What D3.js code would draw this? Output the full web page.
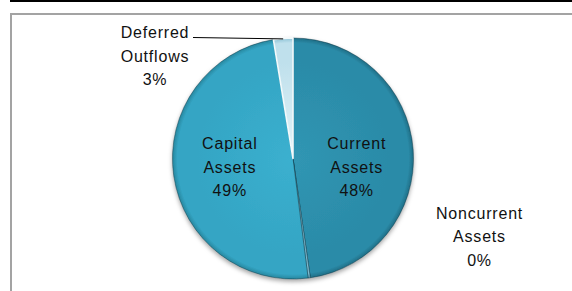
<!DOCTYPE html>
<html>
<head>
<meta charset="utf-8">
<script src="https://cdn.jsdelivr.net/npm/d3@7"></script>
<style>
  html, body { margin:0; padding:0; background:#fff; }
  svg { display:block; }
</style>
</head>
<body>
<div class="chart"></div>
<script>
// data (order = Excel order, clockwise from 12 o'clock)
var categories = ["Current Assets", "Noncurrent Assets", "Capital Assets", "Deferred Outflows"];
var labelLines = [["Current","Assets"], ["Noncurrent","Assets"], ["Capital","Assets"], ["Deferred","Outflows"]];
var values = [47.7, 0.3, 49.4, 2.6];
var pctLabels = ["48%", "0%", "49%", "3%"];

var W = 572, H = 291;
var cx = 293, cy = 158.5, R = 120.5;

// colours per slice: [light, base, rim]
var sliceColors = [
  ["#3096b3", "#2b8ba8", "#1f6e86"],
  ["#8fc9dc", "#7dbdd2", "#5a9fb6"],
  ["#3bb0cf", "#34a5c4", "#27879f"],
  ["#e4f3f8", "#bfe0ec", "#8ec3d6"]
];

var svg = d3.select(".chart").append("svg")
  .attr("width", W)
  .attr("height", H);

var defs = svg.append("defs");

// soft shadow under the pie
var f = defs.append("filter").attr("id","shadow")
  .attr("x","-20%").attr("y","-20%").attr("width","140%").attr("height","140%");
f.append("feDropShadow")
  .attr("dx",0).attr("dy",2.5)
  .attr("stdDeviation",2.2)
  .attr("flood-color","#000")
  .attr("flood-opacity",0.35);

// gradients live in the pie group's coordinates (centre = 0,0)
sliceColors.forEach(function(c,i){
  var g = defs.append("radialGradient")
    .attr("id","grad"+i)
    .attr("gradientUnits","userSpaceOnUse")
    .attr("cx",0).attr("cy",0).attr("r",R);
  g.append("stop").attr("offset","0%").attr("stop-color",c[0]);
  g.append("stop").attr("offset","80%").attr("stop-color",c[1]);
  g.append("stop").attr("offset","96%").attr("stop-color",c[1]);
  g.append("stop").attr("offset","100%").attr("stop-color",c[2]);
});

// top rule
svg.append("line")
  .attr("x1",10).attr("x2",W)
  .attr("y1",1).attr("y2",1)
  .attr("stroke","#000")
  .attr("stroke-width",2);

// chart frame (left + top edges visible)
svg.append("path")
  .attr("d","M11," + H + " L11,14 L" + W + ",14")
  .attr("fill","none")
  .attr("stroke","#a3a3a3")
  .attr("stroke-width",2);

var pie = d3.pie().sort(null).value(function(d){ return d; });
var arcs = pie(values);

var arc = d3.arc().innerRadius(0).outerRadius(R);
var rimArc = d3.arc().innerRadius(R).outerRadius(R);
var labelArc = d3.arc().innerRadius(0).outerRadius(R * 1.06);

var pieG = svg.append("g")
  .attr("transform","translate(" + cx + "," + cy + ")")
  .attr("filter","url(#shadow)");

pieG.selectAll("path.slice")
  .data(arcs)
  .enter().append("path")
  .attr("class","slice")
  .attr("d", arc)
  .attr("fill", function(d,i){ return "url(#grad" + i + ")"; })
  .attr("stroke", function(d,i){ return i === 3 ? "#f2f9fb" : "rgba(10,50,65,0.55)"; })
  .attr("stroke-width", function(d,i){ return i === 3 ? 1.6 : 0.8; })
  .attr("stroke-linejoin","round");

// labels
var fontFam = "'Liberation Sans', Arial, sans-serif";
var lineH = 23.5;

function drawLabel(x, yMid, lines, anchor){
  var t = svg.append("text")
    .attr("x", x)
    .attr("y", yMid - lineH + 5.5)
    .attr("text-anchor", anchor)
    .attr("font-family", fontFam)
    .attr("font-size", "16px")
    .attr("letter-spacing", "0.8px")
    .attr("fill", "#111");
  lines.forEach(function(s,k){
    t.append("tspan")
      .attr("x", x)
      .attr("dy", k === 0 ? 0 : lineH)
      .text(s);
  });
  return t;
}

arcs.forEach(function(d,i){
  var lines = labelLines[i].concat([pctLabels[i]]);
  if (i === 0 || i === 2) {
    // inside labels: horizontally at centroid, vertically a bit under centre
    var c = labelArc.centroid(d);
    drawLabel(cx + c[0], cy + 8.5, lines, "middle");
  } else if (i === 1) {
    // tiny slice: label out to the lower right
    drawLabel(cx + R + 66, cy + 78, lines, "middle");
  } else {
    // deferred outflows: label top-left with leader line to the rim
    var p = rimArc.centroid(d);
    var lx2 = cx - 138, ly = cy - 102.5;
    drawLabel(lx2, ly, lines, "middle");
    svg.append("path")
      .attr("d", "M" + (lx2 + 38) + "," + (ly - lineH + 5) + " L" + (cx + p[0]) + "," + (cy + p[1] + 0.5))
      .attr("fill","none")
      .attr("stroke","#000")
      .attr("stroke-width",1);
  }
});
</script>
</body>
</html>
